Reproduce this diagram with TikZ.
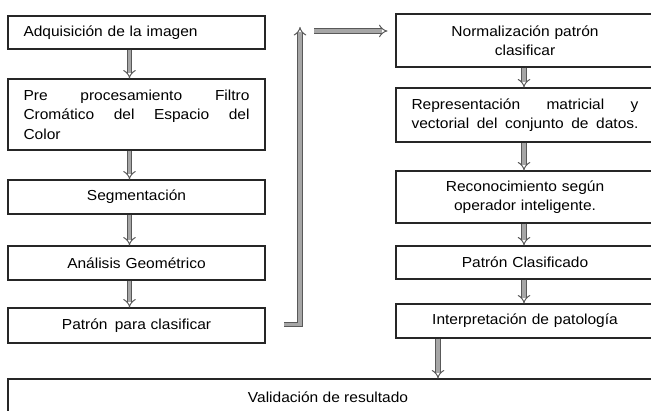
\documentclass[tikz,border=0pt]{standalone}
\usepackage{fontspec}
\setmainfont{Liberation Sans}[FakeStretch=1.07]
\usetikzlibrary{arrows.meta}
\begin{document}
\begin{tikzpicture}[x=1pt,y=-1pt,
  box/.style={draw=black!85, line width=1.1pt, rectangle, inner xsep=15.5pt, inner ysep=0pt,
    text width=#1, font=\fontsize{14.5}{19.5}\selectfont, align=center},
  box/.default=226pt,
  blk/.style={draw=black!65, line width=1pt, double=black!35, double distance=3.4pt, -{Implies}}
]
\clip (0,0) rectangle (651,411);
% left column
\node[box, align=left, minimum height=33pt] (a1) at (136.5,32.5) {Adquisición de la imagen};
\node[box, align=left, minimum height=71pt] (a2) at (136.5,114.5)
  {\leavevmode\makebox[226pt][l]{Pre\hfill procesamiento\hfill Filtro}\\
   \leavevmode\makebox[226pt][l]{Cromático\hfill del\hfill Espacio\hfill del}\\Color};
\node[box, minimum height=34pt] (a3) at (136.5,197) {Segmentación};
\node[box, minimum height=34pt] (a4) at (136.5,263) {Análisis Geométrico};
\node[box, minimum height=35pt] (a5) at (136.5,325.5) {Patrón\, para clasificar};
% right column
\node[box=227pt, minimum height=53pt] (b1) at (525,40.5) {Normalización patrón\\ clasificar};
\node[box=227pt, align=left, minimum height=54pt] (b2) at (525,115)
  {\leavevmode\makebox[227pt][l]{Representación\hfill matricial\hfill y}\\
   \leavevmode\makebox[227pt][l]{vectorial\hfill del\hfill conjunto\hfill de\hfill datos.}};
\node[box=227pt, minimum height=52pt] (b3) at (525,197) {Reconocimiento según\\ operador inteligente.};
\node[box=227pt, minimum height=33pt] (b4) at (525,262.5) {Patrón Clasificado};
\node[box=227pt, minimum height=34pt] (b5) at (525,321) {Interpretación de patología};
% validation
\node[draw=black!85, line width=1.1pt, rectangle, minimum width=646pt, minimum height=36pt,
  inner sep=0pt] (v) at (331,397) {};
\node[font=\fontsize{14.5}{19.5}\selectfont] (vt) at (328,397) {Validación de resultado};
% arrows left
\draw[blk] ([xshift=-7pt]a1.south) -- ([xshift=-7pt]a2.north);
\draw[blk] ([xshift=-7pt]a2.south) -- ([xshift=-7pt]a3.north);
\draw[blk] ([xshift=-7pt]a3.south) -- ([xshift=-7pt]a4.north);
\draw[blk] ([xshift=-7pt]a4.south) -- ([xshift=-7pt]a5.north);
% arrows right
\draw[blk] ([xshift=-1pt]b1.south) -- ([xshift=-1pt]b2.north);
\draw[blk] ([xshift=-1pt]b2.south) -- ([xshift=-1pt]b3.north);
\draw[blk] ([xshift=-1pt]b3.south) -- ([xshift=-1pt]b4.north);
\draw[blk] ([xshift=-1pt]b4.south) -- ([xshift=-1pt]b5.north);
\draw[blk] ([xshift=-87pt]b5.south) -- ([xshift=-87pt]b5.south |- v.north);
% feedback
\coordinate (fb1) at (284,324.5);
\coordinate (fb2) at (300,27);
\draw[blk] (fb1) -- (fb1 -| fb2) -- (fb2);
\coordinate (h1) at (314,31);
\draw[blk, shorten >=8pt] (h1) -- (h1 -| b1.west);
\end{tikzpicture}
\end{document}
